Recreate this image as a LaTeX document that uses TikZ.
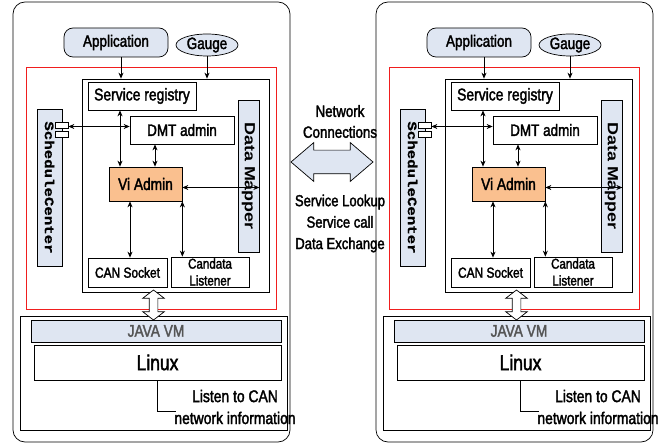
\documentclass[tikz,border=0pt]{standalone}
\usepackage{fontspec}
\setmainfont{Liberation Sans}[FakeStretch=0.82, FakeBold=2]
\newfontfamily\widesans{Liberation Sans}
\newfontfamily\schedmono{Liberation Mono}[FakeBold=1]
\usetikzlibrary{positioning,shapes.geometric,shapes.arrows,arrows.meta}

\definecolor{paleblue}{RGB}{223,230,242}
\definecolor{viorange}{RGB}{250,192,143}
\definecolor{vmgray}{RGB}{85,85,85}
\definecolor{framered}{RGB}{240,30,30}

\newcommand\sz[2]{\fontsize{#1}{#2}\selectfont}

\tikzset{
  box/.style={draw, inner sep=0pt, align=center},
  link/.style={{Stealth[length=6bp,width=5bp]}-{Stealth[length=6bp,width=5bp]}},
  feed/.style={-{Stealth[length=6bp,width=5bp]}},
  hollow/.style={double arrow, draw, inner xsep=0pt, double arrow head indent=0pt}
}

\begin{document}
\begin{tikzpicture}[x=1bp, y=-1bp, line width=0.7bp, font=\sz{16.5}{20}]
  \useasboundingbox (0,0) rectangle (662,444);

  \foreach \p/\dx in {L/0, R/363} {
  \begin{scope}[xshift=\dx bp]
    % containers
    \node[box, rounded corners=12bp, minimum width=277bp, minimum height=440bp] (frame\p) at (151.5,222) {};
    \node[box, draw=framered, line width=1bp, minimum width=250bp, minimum height=242bp] (red\p) at (151.5,188.5) {};
    \node[box, minimum width=187bp, minimum height=213bp] (core\p) at (175.5,185.5) {};
    \node[box, minimum width=267bp, minimum height=114bp] (os\p) at (153.5,373) {};

    % clients
    \node[box, fill=paleblue, rounded corners=9bp, minimum width=104bp, minimum height=29bp] (app\p) at (116,42.5) {Application};
    \node[box, ellipse, fill=paleblue, minimum width=62bp, minimum height=22bp] (gauge\p) at (207,45) {Gauge};

    % middleware blocks
    \node[box, font=\sz{17}{20}, minimum width=108bp, minimum height=28bp] (reg\p) at (142,96) {Service registry};
    \node[box, minimum width=104bp, minimum height=28bp] (dmt\p) at (182,130) {DMT admin};
    \node[box, fill=viorange, font=\sz{16.8}{20}, minimum width=73bp, minimum height=34bp] (vi\p) at (145.5,184) {Vi Admin};
    \node[box, fill=paleblue, rotate=-90, minimum width=152bp, minimum height=21bp] (mapper\p) at (248.5,176)
      {\widesans\bfseries\sz{18}{20}\scalebox{1}[0.82]{Data Mapper}};
    \node[box, fill=paleblue, rotate=-90, minimum width=157bp, minimum height=25bp] (sched\p) at (49.5,187.5)
      {\schedmono\bfseries\sz{15.8}{18}\scalebox{1}[0.82]{ScheduleCenter}};
    \node[box, fill=white, minimum width=13bp, minimum height=6bp] (pa\p) at (61.5,125) {};
    \node[box, fill=white, minimum width=13bp, minimum height=6bp] (pb\p) at (61.5,134) {};
    \node[box, font=\sz{14.6}{18}, minimum width=79bp, minimum height=29bp] (can\p) at (127.5,272.5) {CAN Socket};
    \node[box, font=\sz{14.2}{17}, minimum width=78bp, minimum height=30bp] (candata\p) at (210,272) {Candata\\Listener};

    % platform
    \node[box, fill=paleblue, text=vmgray, font=\sz{16.8}{20}, minimum width=250bp, minimum height=22bp] (java\p) at (156,331) {JAVA VM};
    \node[box, font=\sz{21.4}{24}, minimum width=247bp, minimum height=35bp] (linux\p) at (157.5,362.5) {Linux};
    \node[align=center, inner sep=0pt, font=\sz{17}{22}] (listen\p) at (235,407) {Listen to CAN\\network information};
    \coordinate (tap\p) at (176,411);
    \draw (linux\p.south) |- (tap\p);

    \node[hollow, fill=white, rotate=90, inner ysep=4bp, double arrow head extend=6.5bp,
      double arrow tip angle=105, minimum height=30bp, minimum width=21bp] (bus\p) at (153.5,305) {};

    % connectors
    \draw[feed] ([xshift=5bp]app\p.south) -- ([xshift=5bp]app\p.south |- core\p.north);
    \draw[feed] (gauge\p.south) -- (gauge\p.south |- core\p.north);
    \draw[link] ([yshift=-1.5bp]pa\p.east) -- ([yshift=-1.5bp]pa\p.east -| dmt\p.west);
    \draw[link] ([xshift=-22bp]reg\p.south) -- ([xshift=-22bp]reg\p.south |- vi\p.north);
    \draw[link] ([xshift=-27bp]dmt\p.south) -- ([xshift=-27bp]dmt\p.south |- vi\p.north);
    \draw[link] ([yshift=-3.5bp]vi\p.east) -- ([yshift=-3.5bp]vi\p.east -| mapper\p.north);
    \draw[link] ([xshift=2.5bp]can\p.north) -- ([xshift=2.5bp]can\p.north |- vi\p.south);
    \draw[link] (vi\p.south east) -- (vi\p.south east |- candata\p.north);
  \end{scope}
  }

  % link between the two nodes
  \node[hollow, fill=paleblue, inner ysep=11.5bp, double arrow head extend=7.5bp,
    double arrow tip angle=81, minimum height=82bp, minimum width=38bp] (net) at (332,162) {};
  \node[align=center, inner sep=0pt, font=\sz{16.3}{21}] (netlbl) at (340,121.5) {Network\\Connections};
  \node[align=center, inner sep=0pt, font=\sz{16}{21.5}] (svclbl) at (340,223.5) {Service Lookup\\Service call\\Data Exchange};
\end{tikzpicture}
\end{document}
